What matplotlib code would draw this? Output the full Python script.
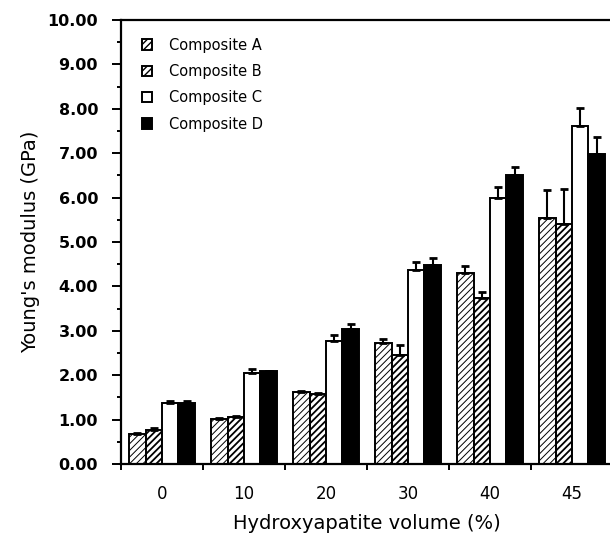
import matplotlib as mpl
import matplotlib.pyplot as plt
from matplotlib.ticker import MultipleLocator
import numpy as np

plt.rcParams['font.family'] = ['DejaVu Sans']

# Hydroxyapatite volume groups
volumes = ["0", "10", "20", "30", "40", "45"]
series = ["Composite A", "Composite B", "Composite C", "Composite D"]

# Young's modulus (GPa)
comp_a = [0.68, 1.02, 1.62, 2.72, 4.30, 5.55]
comp_b = [0.77, 1.05, 1.58, 2.45, 3.75, 5.40]
comp_c = [1.38, 2.05, 2.78, 4.36, 5.98, 7.61]
comp_d = [1.38, 2.10, 3.05, 4.49, 6.51, 6.98]

# upper error bars
err_a = [0.02, 0.02, 0.02, 0.10, 0.17, 0.62]
err_b = [0.03, 0.04, 0.02, 0.24, 0.13, 0.80]
err_c = [0.05, 0.10, 0.13, 0.20, 0.26, 0.40]
err_d = [0.05, 0.00, 0.10, 0.14, 0.17, 0.38]

values = [comp_a, comp_b, comp_c, comp_d]
errors = [err_a, err_b, err_c, err_d]
faces = ["white", "white", "white", "black"]
hatches = ["/" * 5, "/" * 5, None, None]
hatch_lw = [0.7, 1.3, 1.0, 1.0]

fig = plt.figure(figsize=(6.1, 5.35), dpi=100)
ax = fig.add_axes([121 / 610, 71 / 535, 492 / 610, 444 / 535])

x = np.arange(len(volumes))
w = 0.2
for i in range(4):
    pos = x + (i - 1.5) * w
    with mpl.rc_context({'hatch.linewidth': hatch_lw[i]}):
        bars = ax.bar(pos, values[i], w, color=faces[i], edgecolor="black",
                      hatch=hatches[i], linewidth=1.4, label=series[i],
                      zorder=2)
    for b in bars:
        if hasattr(b, "set_hatch_linewidth"):
            b.set_hatch_linewidth(hatch_lw[i])
    ax.errorbar(pos, values[i], yerr=[np.zeros(len(x)), errors[i]],
                fmt="none", ecolor="black", elinewidth=1.5, capsize=3,
                capthick=2, zorder=3)

ax.set_xlim(-0.5, 5.5)
ax.set_ylim(0, 10)
ax.yaxis.set_minor_locator(MultipleLocator(0.5))
ax.set_yticks(np.arange(0, 11, 1))
ax.set_yticklabels([f"{v:.2f}" for v in np.arange(0, 11, 1)],
                   fontweight="bold", fontsize=11.5)

# ticks at group boundaries, labels centred under groups
ax.set_xticks(np.arange(-0.5, 6.0, 1.0))
ax.set_xticklabels([])
ax.set_xticks(x, minor=True)
ax.set_xticklabels(volumes, minor=True, fontsize=12)
ax.tick_params(axis="x", which="minor", length=0, pad=15)
ax.tick_params(axis="x", which="major", length=4.5, width=1.4)
ax.tick_params(axis="y", which="major", length=6.5, width=1.4, pad=10)
ax.tick_params(axis="y", which="minor", length=3, width=1.4)

for s in ax.spines.values():
    s.set_linewidth(1.6)

ax.set_ylabel("Young's modulus (GPa)", fontsize=14, labelpad=5)
ax.set_xlabel("Hydroxyapatite volume (%)", fontsize=14, labelpad=8)

ax.legend(loc="upper left", bbox_to_anchor=(0.015, 0.99), frameon=False,
          fontsize=10.5, handlelength=0.7, handleheight=0.7,
          labelspacing=0.78, handletextpad=1.2)

fig.savefig("out.png", dpi=100)
